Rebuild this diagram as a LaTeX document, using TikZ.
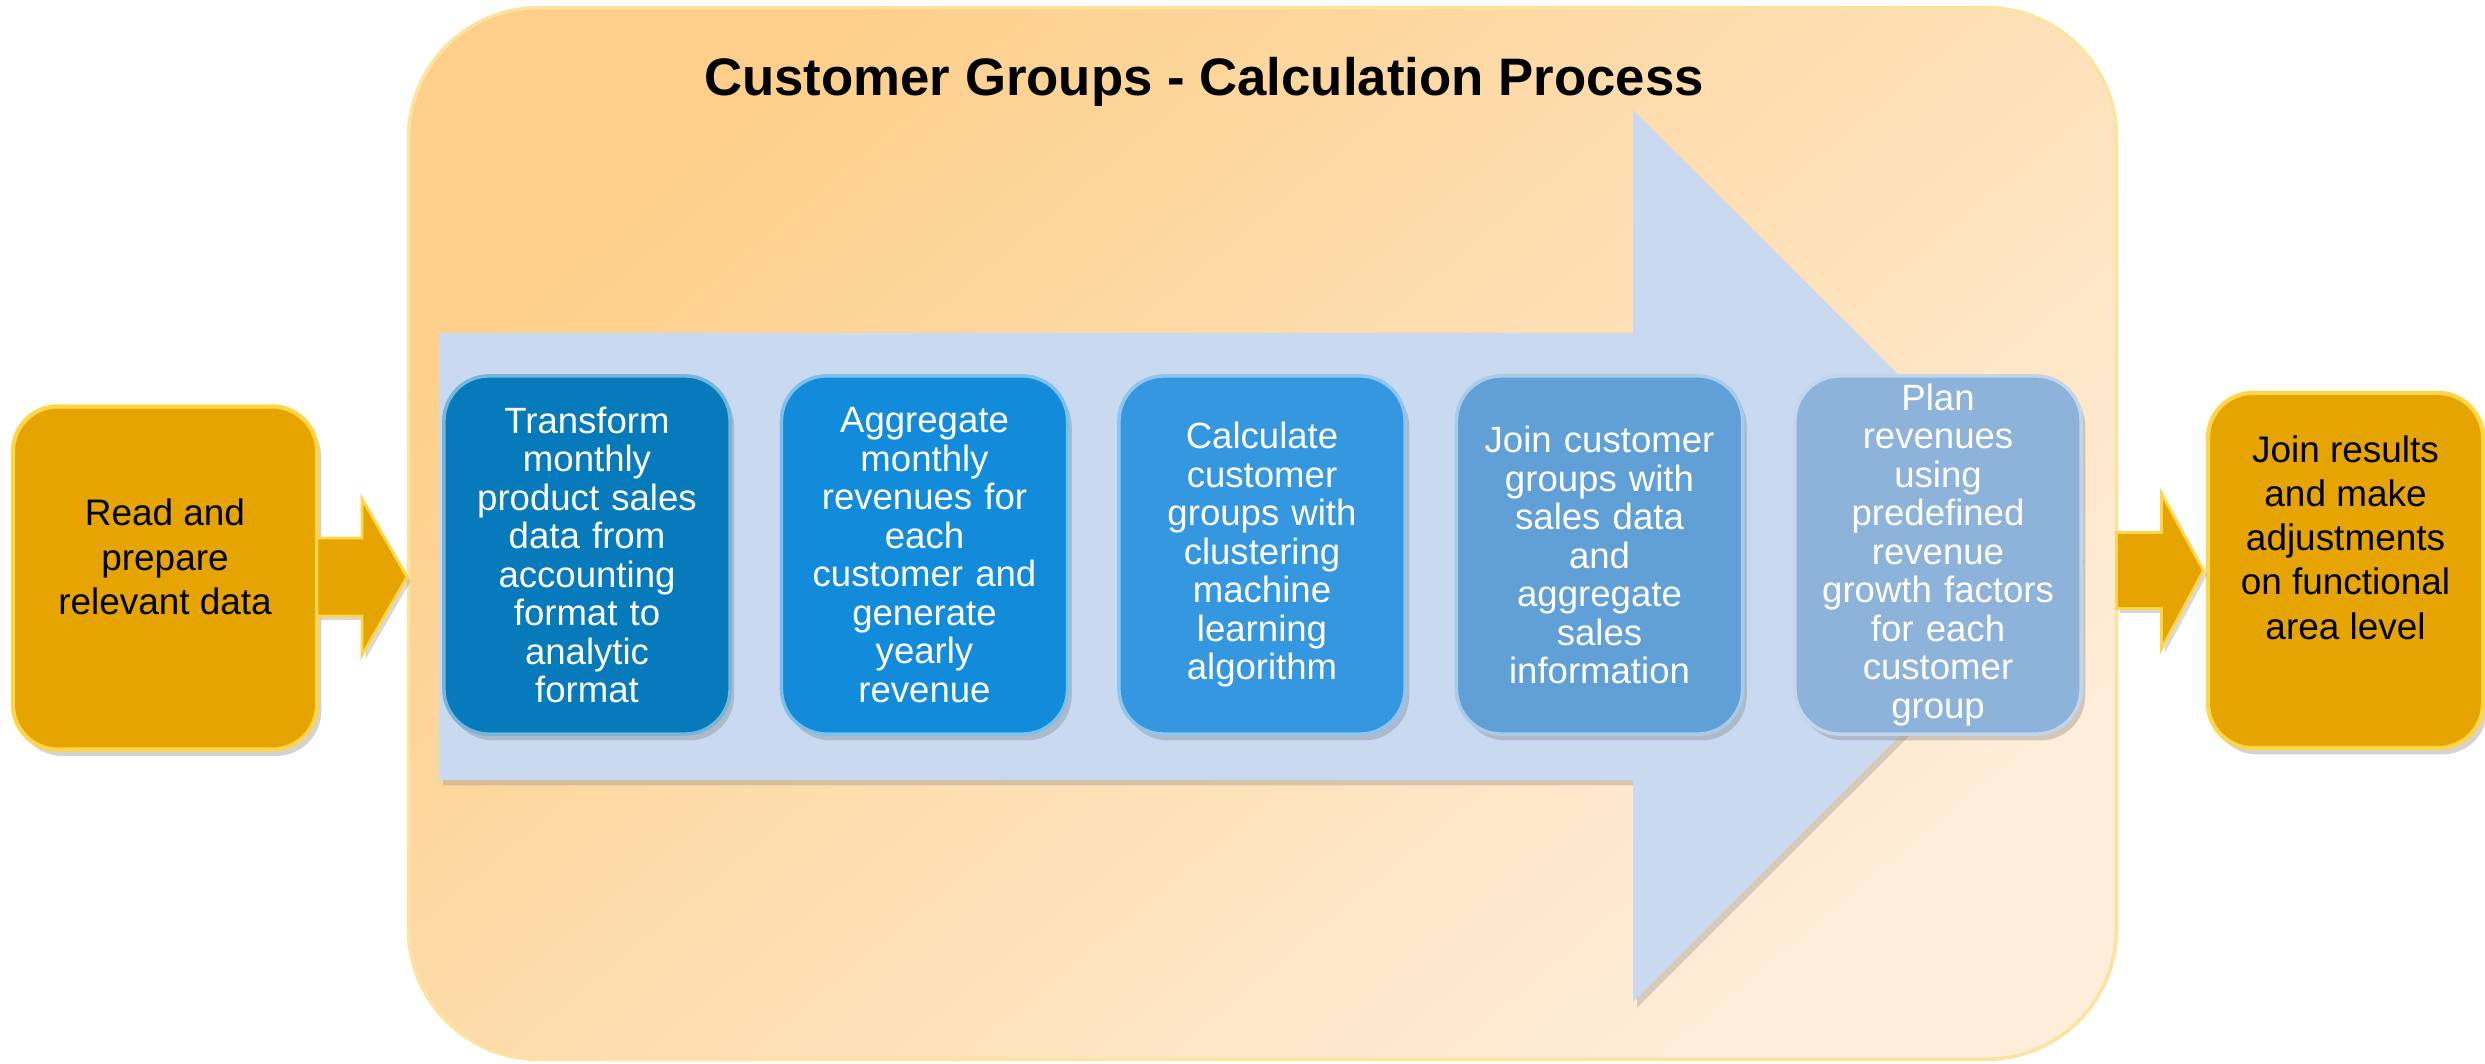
\documentclass[tikz,border=0pt]{standalone}
\usepackage{fontspec}
\setmainfont{Liberation Sans}
\usetikzlibrary{shadows,calc}
\definecolor{peachA}{HTML}{FDCF8A}
\definecolor{peachB}{HTML}{FEEDD9}
\definecolor{peachEdge}{HTML}{FDE3A0}
\definecolor{arrowblue}{HTML}{C9DAF0}
\definecolor{gold}{HTML}{E5A400}
\definecolor{goldedge}{HTML}{FFD64A}
\definecolor{bA}{HTML}{067ABB}
\definecolor{bB}{HTML}{128CDA}
\definecolor{bC}{HTML}{3597DF}
\definecolor{bD}{HTML}{60A0D7}
\definecolor{bE}{HTML}{8EB3DA}
\tikzset{
  container/.style={rounded corners=1.3cm, draw=peachEdge, line width=1pt,
    top color=peachA, bottom color=peachB, shading angle=40,
    minimum width=17.07cm, minimum height=10.51cm, inner sep=0pt, outer sep=0pt},
  titletext/.style={font=\fontsize{15}{18}\bfseries\selectfont, text=black},
  bbox/.style={rounded corners=0.45cm, fill=#1, draw=#1!55!white, line width=1pt,
    minimum width=2.86cm, minimum height=3.58cm, text width=2.8cm, align=center,
    text=white, font=\fontsize{10.4}{10.95}\selectfont, inner sep=0pt, outer sep=0pt,
    drop shadow={shadow xshift=1.2pt, shadow yshift=-1.8pt, opacity=0.35}},
  obox/.style={rounded corners=0.45cm, fill=gold, draw=goldedge, line width=1.2pt,
    inner sep=0pt, outer sep=0pt,
    drop shadow={shadow xshift=1.2pt, shadow yshift=-1.8pt, opacity=0.35}},
  otext/.style={align=center, text=black, font=\fontsize{10.5}{12.6}\selectfont, inner sep=0pt},
  oarrow/.style={fill=gold, draw=goldedge, line width=0.8pt, line join=miter,
    drop shadow={shadow xshift=1pt, shadow yshift=-1.2pt, opacity=0.3}},
  bigarrow/.style={fill=arrowblue, draw=none,
    drop shadow={shadow xshift=1.2pt, shadow yshift=-1.5pt, opacity=0.3}}
}
\begin{document}
\begin{tikzpicture}[x=0.01cm, y=-0.01cm]
\useasboundingbox (0,0) rectangle (2485,1064);
% container
\node[container] (proc) at (1262.5,533.5) {};
\node[titletext] (ttl) at (1204,82) {Customer Groups - Calculation Process};
% big process arrow
\path[bigarrow] (439,333) -- (1633,333) -- (1633,110) -- (2080,556) -- (1633,1002) -- (1633,780) -- (439,780) -- cycle;
% process steps
\node[bbox=bA] (s1) at (587,555) {Transform\\monthly\\product sales\\data from\\accounting\\format to\\analytic\\format};
\node[bbox=bB] (s2) at (924.5,555) {Aggregate\\monthly\\revenues for\\each\\customer and\\generate\\yearly\\revenue};
\node[bbox=bC] (s3) at (1262,555) {Calculate\\customer\\groups with\\clustering\\machine\\learning\\algorithm};
\node[bbox=bD] (s4) at (1599.5,555) {Join customer\\groups with\\sales data\\and\\aggregate\\sales\\information};
\node[bbox=bE] (s5) at (1938,555) {Plan\\revenues\\using\\predefined\\revenue\\growth factors\\for each\\customer\\group};
% outer boxes
\node[obox, minimum width=3.04cm, minimum height=3.43cm] (read) at (165,578) {};
\node[otext] (readt) at ([yshift=0.21cm]read.center) {Read and\\prepare\\relevant data};
\node[obox, minimum width=2.75cm, minimum height=3.55cm] (resb) at (2345.5,570.5) {};
\node[otext] (resbt) at ([yshift=0.33cm]resb.center) {Join results\\and make\\adjustments\\on functional\\area level};
% block arrows
\begin{scope}[shift={(read.east)}]
\path[oarrow] (0,-40) -- (45,-40) -- (45,-79) -- (90,-1) -- (45,77) -- (45,38) -- (0,38) -- cycle;
\end{scope}
\begin{scope}[shift={($(proc.east |- resb.center)+(0,0.05)$)}]
\path[oarrow] (0,-38) -- (45,-38) -- (45,-77) -- (87,0) -- (45,78) -- (45,38) -- (0,38) -- cycle;
\end{scope}
\end{tikzpicture}
\end{document}
